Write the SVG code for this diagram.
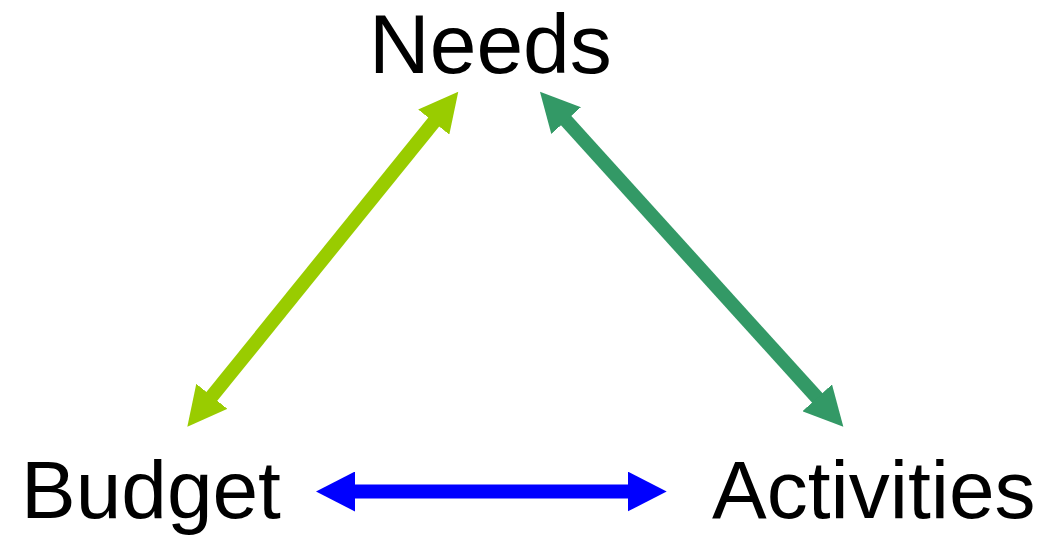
<svg xmlns="http://www.w3.org/2000/svg" width="1045" height="539" viewBox="0 0 1045 539">
<style>
.lbl{font-family:"Liberation Sans",Arial,sans-serif;fill:#000}
.c{fill:none;stroke-width:14}
</style>
<defs>
<marker id="hLime" markerUnits="userSpaceOnUse" markerWidth="40" markerHeight="40" refX="2" refY="20" orient="auto-start-reverse" viewBox="0 0 40 40"><path d="M0,0 L39,20 L0,40 z" fill="#99CC00"/></marker>
<marker id="hGreen" markerUnits="userSpaceOnUse" markerWidth="40" markerHeight="40" refX="2" refY="20" orient="auto-start-reverse" viewBox="0 0 40 40"><path d="M0,0 L39,20 L0,40 z" fill="#339966"/></marker>
<marker id="hBlue" markerUnits="userSpaceOnUse" markerWidth="40" markerHeight="40" refX="2" refY="20" orient="auto-start-reverse" viewBox="0 0 40 40"><path d="M0,0 L39,20 L0,40 z" fill="#0000FF"/></marker>
</defs>
<rect width="1045" height="539" fill="#fff"/>
<g id="connectors">
<line class="c" x1="210.6" y1="397.9" x2="435.0" y2="120.5" stroke="#99CC00" marker-start="url(#hLime)" marker-end="url(#hLime)"/>
<line class="c" x1="564.8" y1="119.1" x2="818.5" y2="399.3" stroke="#339966" marker-start="url(#hGreen)" marker-end="url(#hGreen)"/>
<line class="c" x1="353" y1="491.5" x2="629.7" y2="491.5" stroke="#0000FF" marker-start="url(#hBlue)" marker-end="url(#hBlue)"/>
</g>
<g id="needs"><text class="lbl" x="369" y="73" font-size="84">Needs</text></g>
<g id="budget"><text class="lbl" x="21" y="518" font-size="82">Budget</text></g>
<g id="activities"><text class="lbl" x="712" y="518" font-size="82">Activities</text></g>
</svg>
